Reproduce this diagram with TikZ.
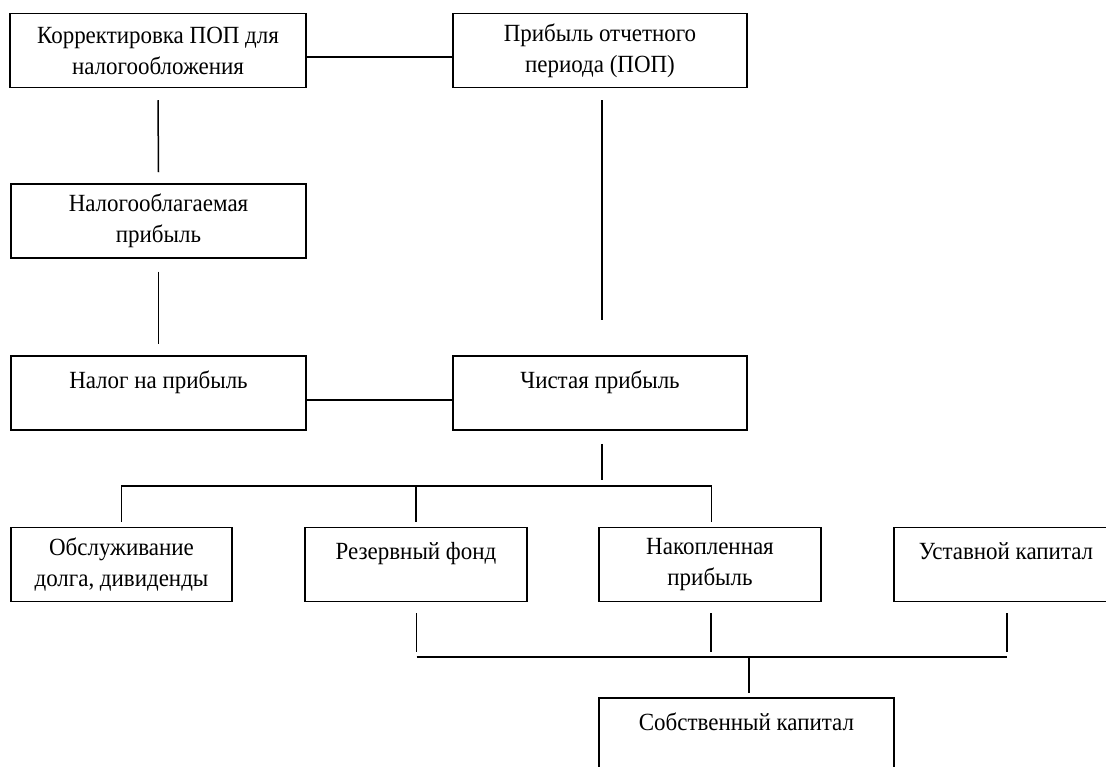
\documentclass[tikz,border=0pt]{standalone}
\usepackage{fontspec}
\setmainfont{Liberation Serif}
\newfontfamily\boxfont[FakeStretch=0.93]{Liberation Serif}
\begin{document}
\begin{tikzpicture}[x=1pt,y=-1pt,
  box/.style={draw, line width=1.5pt, rectangle, align=center, inner sep=0pt,
    minimum height=74pt, font=\boxfont\fontsize{24.7}{31}\selectfont},
  oneline/.style={text depth=27pt},
  link/.style={draw, line width=1.5pt}]
\useasboundingbox (0,0) rectangle (1106,767);
\begin{scope}
\clip (0,0) rectangle (1106,767);
\node[box, minimum width=296pt] (b1) at (158,50.5) {Корректировка ПОП для\\налогообложения};
\node[box, minimum width=294pt] (b2) at (600,50.5) {Прибыль отчетного\\периода (ПОП)};
\node[box, minimum width=295pt] (b3) at (158.5,221) {Налогооблагаемая\\прибыль};
\node[box, oneline, minimum width=295pt] (b4) at (158.5,393) {Налог на прибыль};
\node[box, oneline, minimum width=294pt] (b5) at (600,393) {Чистая прибыль};
\node[box, minimum width=221pt] (b6) at (121.5,564.5) {Обслуживание\\долга, дивиденды};
\node[box, oneline, minimum width=222pt] (b7) at (416,564.5) {Резервный фонд};
\node[box, minimum width=222pt] (b8) at (710,564.5) {Накопленная\\прибыль};
\node[box, oneline, minimum width=224pt] (b9) at (1006,564.5) {Уставной капитал};
\node[box, oneline, minimum width=295pt] (b10) at (746.5,735) {Собственный капитал};

\coordinate (busA) at (0,486);
\coordinate (busB) at (0,657);

% top row link
\draw[link] ([yshift=-6.5pt]b1.east) -- ([yshift=-6.5pt]b2.west);
% left column
\draw[link] ([yshift=-12pt]b1.south) -- ([yshift=11pt]b3.north);
\draw[link] ([yshift=-13pt]b3.south) -- ([yshift=11pt]b4.north);
% right column
\draw[link] ([xshift=2pt,yshift=-12pt]b2.south) -- ([xshift=2pt,yshift=35pt]b5.north);
% tax link
\draw[link] ([yshift=-7pt]b4.east) -- ([yshift=-7pt]b5.west);
% distribution of net profit
\draw[link] ([xshift=2pt,yshift=-13pt]b5.south) -- ([xshift=2pt,yshift=6pt]b5.south |- busA);
\draw[link] ([yshift=5pt]b6.north) -- (b6.north |- busA) -- ([xshift=1.5pt]b8.north |- busA) -- ([xshift=1.5pt,yshift=5pt]b8.north);
\draw[link] (b7.north |- busA) -- ([yshift=5pt]b7.north);
% equity
\draw[link] ([xshift=0.5pt,yshift=-11pt]b7.south) -- ([xshift=0.5pt,yshift=5pt]b7.south |- busB);
\draw[link] ([xshift=1pt,yshift=-11pt]b8.south) -- ([xshift=1pt,yshift=5pt]b8.south |- busB);
\draw[link] ([xshift=1pt,yshift=-11pt]b9.south) -- ([xshift=1pt,yshift=5pt]b9.south |- busB);
\draw[link] ([xshift=0.5pt]b7.south |- busB) -- ([xshift=1pt]b9.south |- busB);
\draw[link] ([xshift=2.5pt]b10.north |- busB) -- ([xshift=2.5pt,yshift=4pt]b10.north);
\end{scope}
\end{tikzpicture}
\end{document}
